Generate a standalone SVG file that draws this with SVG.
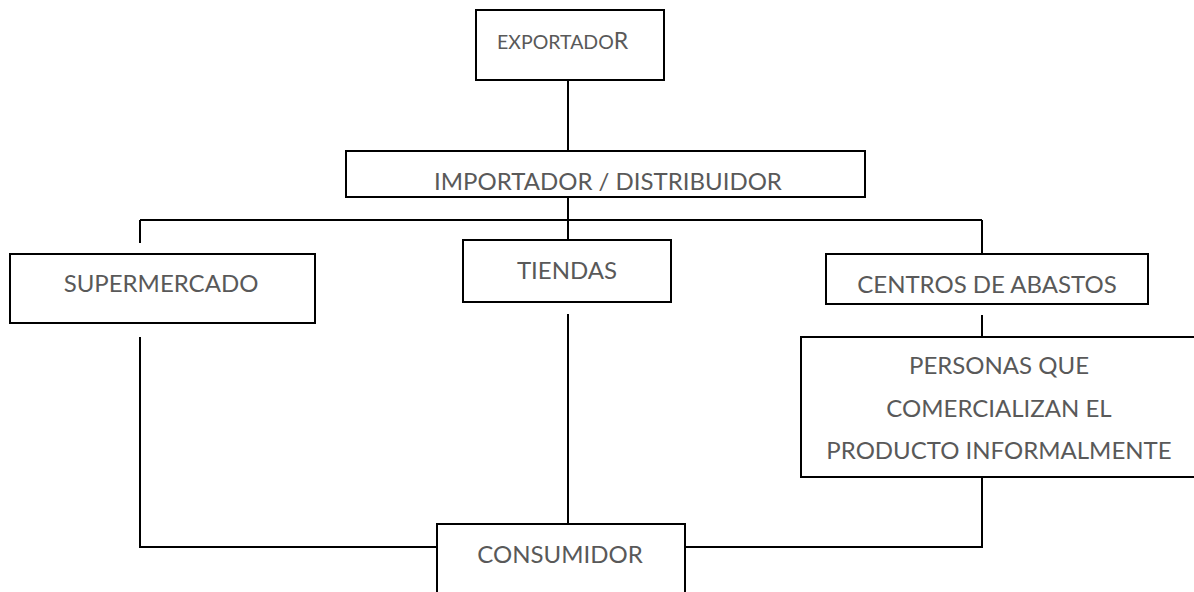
<svg xmlns="http://www.w3.org/2000/svg" width="1194" height="592" viewBox="0 0 1194 592">
<style>
.box{fill:#fff;stroke:#000;stroke-width:2}
.t{font-family:Lato,"Open Sans",sans-serif;fill:#595959;font-size:24px;text-anchor:middle}
.c{fill:none;stroke:#000;stroke-width:2}
</style>
<rect width="1194" height="592" fill="#fff"/>
<g id="connectors">
<path class="c" d="M568 80V151"/>
<path class="c" d="M568 197V240"/>
<path class="c" d="M140 220H982"/>
<path class="c" d="M140 220V243"/>
<path class="c" d="M982 220V254"/>
<path class="c" d="M982 315V338"/>
<path class="c" d="M568 314V524"/>
<path class="c" d="M140 337V547H437"/>
<path class="c" d="M982 477V547H685"/>
</g>
<g id="exportador">
<rect class="box" x="476" y="10" width="188" height="70"/>
<text class="t" x="497" y="49" style="text-anchor:start;font-size:19.5px">EXPORTADO<tspan style="font-size:23px">R</tspan></text>
</g>
<g id="importador">
<rect class="box" x="346" y="151" width="519" height="46"/>
<text class="t" x="608" y="190">IMPORTADOR / DISTRIBUIDOR</text>
</g>
<g id="supermercado">
<rect class="box" x="10" y="254" width="305" height="69"/>
<text class="t" x="161" y="292">SUPERMERCADO</text>
</g>
<g id="tiendas">
<rect class="box" x="463" y="240" width="208" height="62"/>
<text class="t" x="567" y="279">TIENDAS</text>
</g>
<g id="centros">
<rect class="box" x="826" y="254" width="322" height="50"/>
<text class="t" x="987" y="293">CENTROS DE ABASTOS</text>
</g>
<g id="personas">
<path class="box" d="M1196 337H801V477H1196"/>
<text class="t" x="999" y="374">PERSONAS QUE</text>
<text class="t" x="999" y="417">COMERCIALIZAN EL</text>
<text class="t" x="999" y="459">PRODUCTO INFORMALMENTE</text>
</g>
<g id="consumidor">
<path class="box" d="M437 596V524H685V596"/>
<text class="t" x="560" y="563">CONSUMIDOR</text>
</g>
</svg>
